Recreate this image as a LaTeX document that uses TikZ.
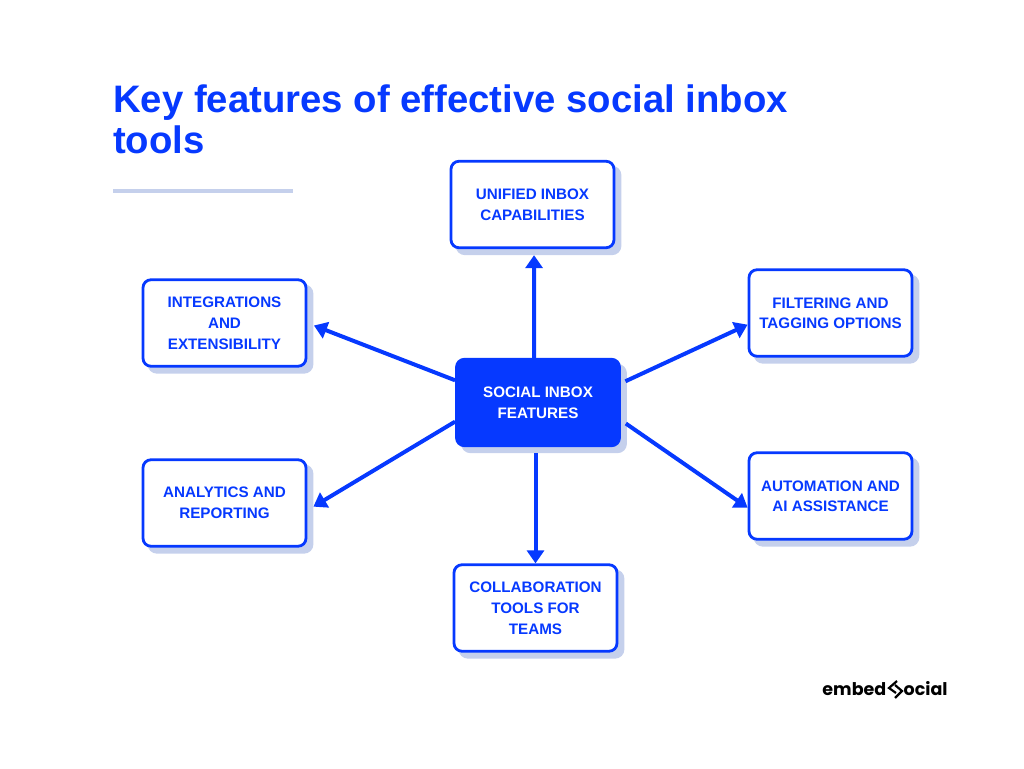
\documentclass[tikz,border=0pt]{standalone}
\usepackage{fontspec}
\setmainfont{Liberation Sans}
\newfontfamily\logofont{Poppins}
\usetikzlibrary{shadows,arrows.meta}
\definecolor{inboxblue}{HTML}{0639FF}
\definecolor{inboxshade}{HTML}{C5D0EC}
\tikzset{
  feature/.style={rectangle,draw=inboxblue,fill=white,line width=2.8pt,rounded corners=8pt,minimum width=163pt,minimum height=86.5pt,align=center,text=inboxblue,font=\fontsize{15.2}{21}\selectfont\bfseries,copy shadow={shadow xshift=6pt,shadow yshift=-6pt,fill=inboxshade,draw=inboxshade}},
  hubbox/.style={feature,fill=inboxblue,text=white},
  link/.style={draw=inboxblue,line width=4pt,-{Triangle[length=13pt,width=17pt]}},
}
\begin{document}
\begin{tikzpicture}[x=1pt,y=-1pt]
\useasboundingbox (0,0) rectangle (1024,768);
\node[anchor=north west,inner sep=0pt,align=left,text=inboxblue,font=\fontsize{38.3}{41}\selectfont\bfseries] (title) at (113,85) {Key features of effective social inbox\\tools};
\draw[inboxshade,line width=4pt] (113,190.5) -- (293,190.5);
\node[feature] (unified) at (532.5,204.5) {UNIFIED INBOX\\CAPABILITIES};
\node[feature] (integrations) at (224.5,323) {INTEGRATIONS\\AND\\EXTENSIBILITY};
\node[feature] (filtering) at (830.5,313) {FILTERING AND\\[-1pt]TAGGING OPTIONS};
\node[feature] (analytics) at (224.5,503) {ANALYTICS AND\\REPORTING};
\node[feature] (automation) at (830.5,496) {AUTOMATION AND\\[-1pt]AI ASSISTANCE};
\node[feature] (collab) at (535.5,608) {COLLABORATION\\TOOLS FOR\\TEAMS};
\node[hubbox] (hub) at (538,402.5) {SOCIAL INBOX\\FEATURES};
\draw[link,shorten >=6pt] (hub.95) -- (unified.-88);
\draw[link,shorten >=7pt] (hub.165) -- (integrations.east);
\draw[link,shorten >=7pt] (hub.193) -- (analytics.-5);
\draw[link,shorten <=5pt] (hub.13) -- (filtering.188);
\draw[link,shorten <=6pt] (hub.-12) -- (automation.188);
\draw[link,shorten <=6pt] (hub.south -| collab.north) -- (collab.north);
% logo
\node[inner sep=0pt,anchor=base east,font=\logofont\fontsize{17.5}{17}\selectfont\bfseries] (logoleft) at (886.5,695) {embed};
\node[inner sep=0pt,anchor=base west,font=\logofont\fontsize{17.5}{17}\selectfont\bfseries] (logoright) at (903.5,695) {ocial};
\draw[line width=2.2pt] (897,681) -- (889,688) -- (896,693);
\draw[line width=2.2pt] (895,685) -- (902,691) -- (895,698);
\end{tikzpicture}
\end{document}
